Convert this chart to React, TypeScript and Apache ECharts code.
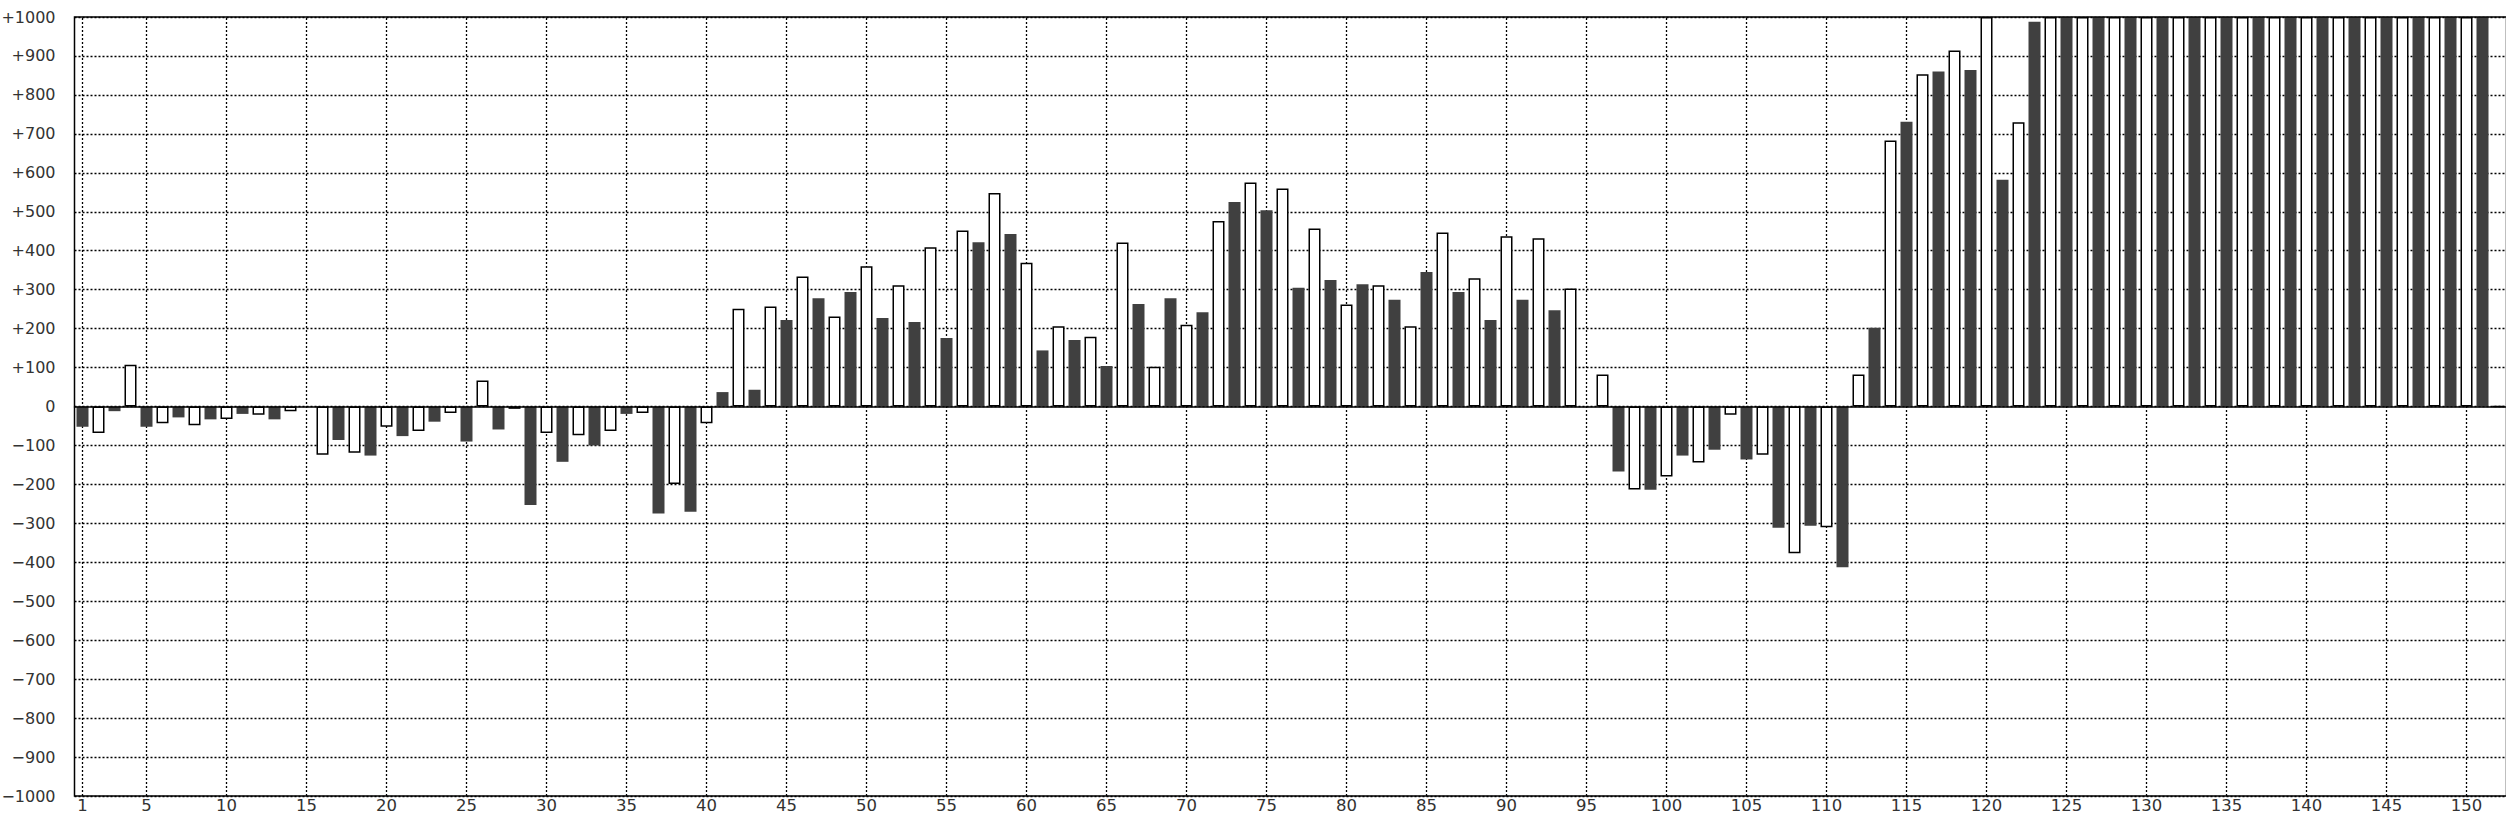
import React, { useEffect, useRef } from "react";
import * as echarts from "echarts";

// Category labels 1..152
const categories: string[] = Array.from({ length: 152 }, (_, i) => String(i + 1));

// Values (odd categories: dark bars, even: white bars)
const values: number[] = [
  -52, -68, -12, 107, -52, -43, -28, -48, -33, -32,
  -19, -21, -33, -12, 0, -124, -86, -119, -126, -52,
  -76, -63, -39, -17, -90, 67, -59, -6, -253, -68,
  -142, -74, -100, -63, -19, -17, -275, -199, -270, -43,
  37, 251, 43, 257, 222, 334, 278, 231, 294, 360,
  227, 311, 217, 409, 176, 452, 422, 548, 443, 369,
  144, 206, 171, 179, 104, 421, 263, 102, 278, 210,
  242, 476, 525, 575, 504, 560, 305, 457, 325, 262,
  314, 311, 274, 206, 345, 447, 294, 329, 222, 437,
  274, 432, 247, 303, 0, 82, -167, -213, -214, -180,
  -126, -144, -111, -21, -136, -124, -311, -377, -306, -310,
  -413, 82, 202, 683, 731, 853, 860, 914, 864, 1000,
  582, 730, 988, 1000, 1000, 1000, 1000, 1000, 1000, 1000,
  1000, 1000, 1000, 1000, 1000, 1000, 1000, 1000, 1000, 1000,
  1000, 1000, 1000, 1000, 1000, 1000, 1000, 1000, 1000, 1000,
  1000, 0,
];

// Labelled x positions (also get dotted vertical grid lines)
const xLabelTicks: string[] = [
  "1", "5", "10", "15", "20", "25", "30", "35", "40", "45", "50",
  "55", "60", "65", "70", "75", "80", "85", "90", "95", "100",
  "105", "110", "115", "120", "125", "130", "135", "140", "145", "150",
];

const yMin = -1000;
const yMax = 1000;
const yStep = 100;

const FONT = "DejaVu Sans";
const DARK = "#404040";

export default function App() {
  const ref = useRef<HTMLDivElement>(null);

  useEffect(() => {
    if (!ref.current) return;
    const chart = echarts.init(ref.current, null, { renderer: "svg" });

    const darkStyle = { color: DARK, borderWidth: 0 };
    const whiteStyle = { color: "#ffffff", borderColor: "#000000", borderWidth: 1.5 };

    const option: any = {
      animation: false,
      backgroundColor: "#ffffff",
      grid: {
        left: 74.5,
        top: 17,
        width: 2432,
        height: 779,
        containLabel: false,
        outerBoundsMode: "none",
        show: true,
        backgroundColor: "transparent",
        borderColor: "#000000",
        borderWidth: 1.5,
        z: 3,
      },
      xAxis: [
        {
          type: "category",
          data: categories,
          position: "bottom",
          boundaryGap: true,
          axisLine: { show: false, onZero: false },
          axisTick: { show: false },
          splitLine: { show: false },
          axisLabel: {
            interval: (_i: number, v: string) => xLabelTicks.includes(v),
            fontFamily: FONT,
            fontSize: 16.5,
            color: "#333333",
            margin: 1,
          },
        },
        {
          type: "category",
          data: categories,
          position: "bottom",
          boundaryGap: true,
          z: 3,
          axisLine: { show: true, onZero: true, lineStyle: { color: "#000000", width: 1.5 } },
          axisTick: { show: false },
          axisLabel: { show: false },
          splitLine: { show: false },
        },
      ],
      yAxis: {
        type: "value",
        min: yMin,
        max: yMax,
        interval: yStep,
        axisLine: { show: false },
        axisTick: { show: false },
        splitLine: {
          show: true,
          lineStyle: { color: "#000000", type: [2, 2], width: 1.3 },
        },
        axisLabel: {
          fontFamily: FONT,
          fontSize: 16,
          color: "#333333",
          margin: 19,
          formatter: (v: number) => (v > 0 ? "+" + v : v < 0 ? "\u2212" + -v : "0"),
        },
      },
      series: [
        {
          type: "bar",
          xAxisIndex: 0,
          yAxisIndex: 0,
          barWidth: 12,
          clip: true,
          z: 2,
          data: values.map((v, i) => ({
            value: v,
            itemStyle: i % 2 === 0 ? darkStyle : whiteStyle,
          })),
          markLine: {
            silent: true,
            z: 1,
            symbol: ["none", "none"],
            animation: false,
            label: { show: false },
            lineStyle: { color: "#000000", type: [2, 2], width: 1.3 },
            data: xLabelTicks.map((v) => ({ xAxis: v })),
          },
        },
      ],
    };

    chart.setOption(option);
    return () => chart.dispose();
  }, []);

  return (
    <div
      style={{
        position: "absolute",
        left: 0,
        top: 0,
        width: 2506,
        height: 816,
        overflow: "hidden",
        background: "#ffffff",
      }}
    >
      <div ref={ref} style={{ width: 2530, height: 816 }} />
    </div>
  );
}
